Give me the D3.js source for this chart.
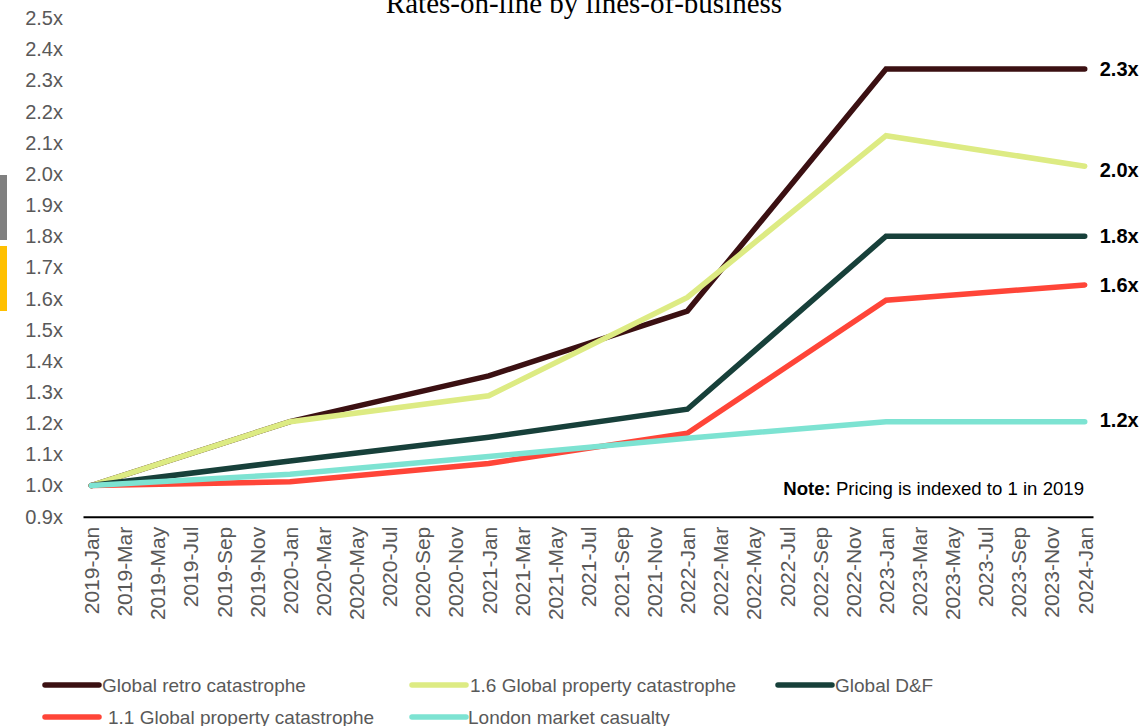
<!DOCTYPE html>
<html><head><meta charset="utf-8">
<script src="https://cdn.jsdelivr.net/npm/d3@7"></script>
<style>
html,body{margin:0;padding:0;background:#fff;}
svg{display:block;font-family:"Liberation Sans",Arial,sans-serif;}
</style></head>
<body>
<svg id="chart" width="1143" height="726"></svg>
<script>
const title = "Rates-on-line by lines-of-business";
const months = ["Jan","Feb","Mar","Apr","May","Jun","Jul","Aug","Sep","Oct","Nov","Dec"];
const categories = [];
for (let y = 2019; y <= 2024; y++) for (let m = 0; m < 12; m++) { if (y === 2024 && m > 0) break; categories.push(y + "-" + months[m]); }
const pointDates = ["2019-Jan","2020-Jan","2021-Jan","2022-Jan","2023-Jan","2024-Jan"];
const seriesNames = ["Global retro catastrophe","1.6 Global property catastrophe","Global D&F","1.1 Global property catastrophe","London market casualty"];
const seriesColors = ["#3B1012","#DDEB83","#17403A","#FF4538","#7DE3D2"];
const retroValues   = [1.0, 1.205, 1.352, 1.56, 2.337, 2.337];
const prop16Values  = [1.0, 1.205, 1.288, 1.604, 2.123, 2.025];
const dfValues      = [1.0, 1.079, 1.155, 1.245, 1.80, 1.80];
const prop11Values  = [1.0, 1.012, 1.071, 1.168, 1.595, 1.644];
const londonValues  = [1.0, 1.036, 1.093, 1.152, 1.205, 1.205];
const endLabels = ["2.3x","2.0x","1.8x","1.6x","1.2x"];
const yTicks = [0.9,1.0,1.1,1.2,1.3,1.4,1.5,1.6,1.7,1.8,1.9,2.0,2.1,2.2,2.3,2.4,2.5];
const xTickLabels = categories.filter((d,i) => i % 2 === 0);
const noteBold = "Note:";
const noteText = " Pricing is indexed to 1 in 2019";

const allValues = [retroValues, prop16Values, dfValues, prop11Values, londonValues];
const endLabelShift = [0, 4, 0, 0, -2];

const svg = d3.select("#chart");
const x = d3.scalePoint().domain(categories).range([83, 1093]).padding(0.5);
const y = d3.scaleLinear().domain([0.9, 2.5]).range([516.7, 18.2]);

// side markers
svg.append("rect").attr("x",0).attr("y",175).attr("width",7).attr("height",65).attr("fill","#808080");
svg.append("rect").attr("x",0).attr("y",246).attr("width",7).attr("height",65).attr("fill","#FFC000");

// title
svg.append("text").attr("x",584).attr("y",12.5).attr("text-anchor","middle")
  .attr("font-family","'Liberation Serif','Times New Roman',serif").attr("font-size",29).attr("fill","#000")
  .text(title);

// y axis
const yAxis = svg.append("g").attr("transform","translate(83,0)")
  .call(d3.axisLeft(y).tickValues(yTicks).tickSize(0).tickPadding(20).tickFormat(d => d3.format(".1f")(d) + "x"));
yAxis.select(".domain").remove();
yAxis.selectAll("text").attr("font-size",20).attr("fill","#595959").attr("font-family","'Liberation Sans',Arial,sans-serif");

// x axis
const xAxis = svg.append("g").attr("transform","translate(0," + y(0.9) + ")")
  .call(d3.axisBottom(x).tickValues(xTickLabels).tickSize(0).tickSizeOuter(0));
xAxis.select(".domain").attr("stroke","#000").attr("stroke-width",2);
xAxis.selectAll("text").attr("font-size",21).attr("fill","#595959")
  .attr("font-family","'Liberation Sans',Arial,sans-serif")
  .attr("transform","rotate(-90)").attr("text-anchor","end")
  .attr("x",-10).attr("y",0).attr("dy","0.35em");

// lines
const line = d3.line().x(d => x(d.date)).y(d => y(d.v));
allValues.forEach((vals, i) => {
  const data = pointDates.map((dt, j) => ({date: dt, v: vals[j]}));
  svg.append("path").datum(data).attr("d", line).attr("fill","none")
    .attr("stroke", seriesColors[i]).attr("stroke-width",5.5)
    .attr("stroke-linecap","round").attr("stroke-linejoin","miter");
});

// end labels
allValues.forEach((vals, i) => {
  svg.append("text").attr("x", x(pointDates[pointDates.length-1]) + 15)
    .attr("y", y(vals[vals.length-1]) + endLabelShift[i]).attr("dy","0.35em")
    .attr("font-size",20).attr("font-weight","bold").attr("fill","#000")
    .text(endLabels[i]);
});

// note
const note = svg.append("text").attr("x",1084).attr("y",495).attr("text-anchor","end")
  .attr("font-size",18.6).attr("fill","#000");
note.append("tspan").attr("font-weight","bold").text(noteBold);
note.append("tspan").text(noteText);

// legend
const legendPos = [[45,685,102],[412,685,470],[778,685,835],[45,717,108],[412,717,468]];
seriesNames.forEach((name, i) => {
  const [lx, ly, tx] = legendPos[i];
  svg.append("line").attr("x1",lx).attr("x2",lx+54).attr("y1",ly).attr("y2",ly)
    .attr("stroke",seriesColors[i]).attr("stroke-width",5.5).attr("stroke-linecap","round");
  svg.append("text").attr("x",tx).attr("y",ly).attr("dy","0.35em")
    .attr("font-size",19).attr("fill","#595959").text(name);
});
</script>
</body></html>
